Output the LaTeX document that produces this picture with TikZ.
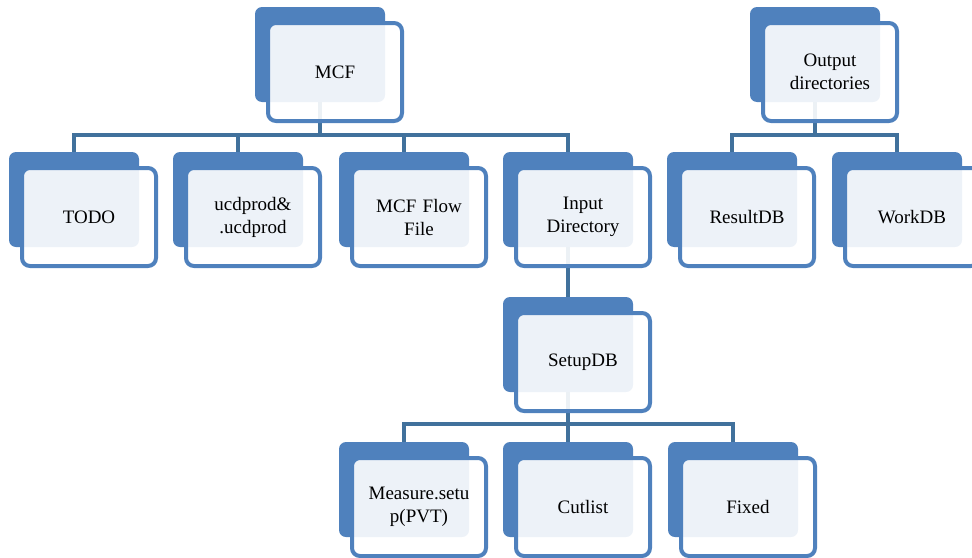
\documentclass[tikz,border=0pt]{standalone}
\usepackage{fontspec}
\setmainfont{Liberation Serif}
\usetikzlibrary{calc}
\definecolor{boxblue}{HTML}{4F81BD}
\definecolor{linkblue}{HTML}{41719C}
\tikzset{
  backbox/.style={draw=none, fill=boxblue, rounded corners=7pt,
    minimum width=130pt, minimum height=95pt, inner sep=0pt},
  frontbox/.style={draw=boxblue, line width=4pt, fill=white, fill opacity=0.9,
    text opacity=1, rounded corners=8pt, minimum width=134pt, minimum height=98pt,
    inner sep=0pt, align=center, text width=128pt,
    font=\fontsize{19}{23}\selectfont},
  link/.style={draw=linkblue, line width=4pt, line join=miter}
}
% back plate of a tile: #1 name, (#2,#3) top-left corner
\newcommand{\plate}[3]{\node[backbox] (#1b) at (#2+65,#3+47.5) {};}
% front card of a tile: #1 name, (#2,#3) top-left of its plate, #4 text
\newcommand{\card}[4]{\node[frontbox] (#1) at (#2+80,#3+65) {#4};}
\begin{document}
\begin{tikzpicture}[x=1pt,y=-1pt]
\useasboundingbox (0,0) rectangle (972,557);
% plates
\plate{mcf}{255}{7}
\plate{out}{750}{7}
\plate{todo}{9}{152}
\plate{ucd}{173}{152}
\plate{flow}{339}{152}
\plate{inp}{503}{152}
\plate{res}{667}{152}
\plate{work}{832}{152}
\plate{setup}{503}{297}
\plate{meas}{339}{442}
\plate{cut}{503}{442}
\plate{fix}{668}{442}
% connectors
\foreach \c in {todo,ucd,flow,inp}
  \draw[link] (mcfb.south) |- ($(\c b.north)+(0,-17)$) -- (\c b.north);
\foreach \c in {res,work}
  \draw[link] (outb.south) |- ($(\c b.north)+(0,-17)$) -- (\c b.north);
\draw[link] (inpb.south) -- (setupb.north);
\foreach \c in {meas,cut,fix}
  \draw[link] (setupb.south) |- ($(\c b.north)+(0,-18)$) -- (\c b.north);
% cards
\card{mcf}{255}{7}{MCF}
\card{out}{750}{7}{Output\\directories}
\card{todo}{9}{152}{TODO}
\card{ucd}{173}{152}{ucdprod\&\\.ucdprod}
\card{flow}{339}{152}{MCF Flow\\File}
\card{inp}{503}{152}{Input\\Directory}
\card{res}{667}{152}{ResultDB}
\card{work}{832}{152}{WorkDB}
\card{setup}{503}{297}{SetupDB}
\card{meas}{339}{442}{Measure.setu\\p(PVT)}
\card{cut}{503}{442}{Cutlist}
\card{fix}{668}{442}{Fixed}
\end{tikzpicture}
\end{document}
